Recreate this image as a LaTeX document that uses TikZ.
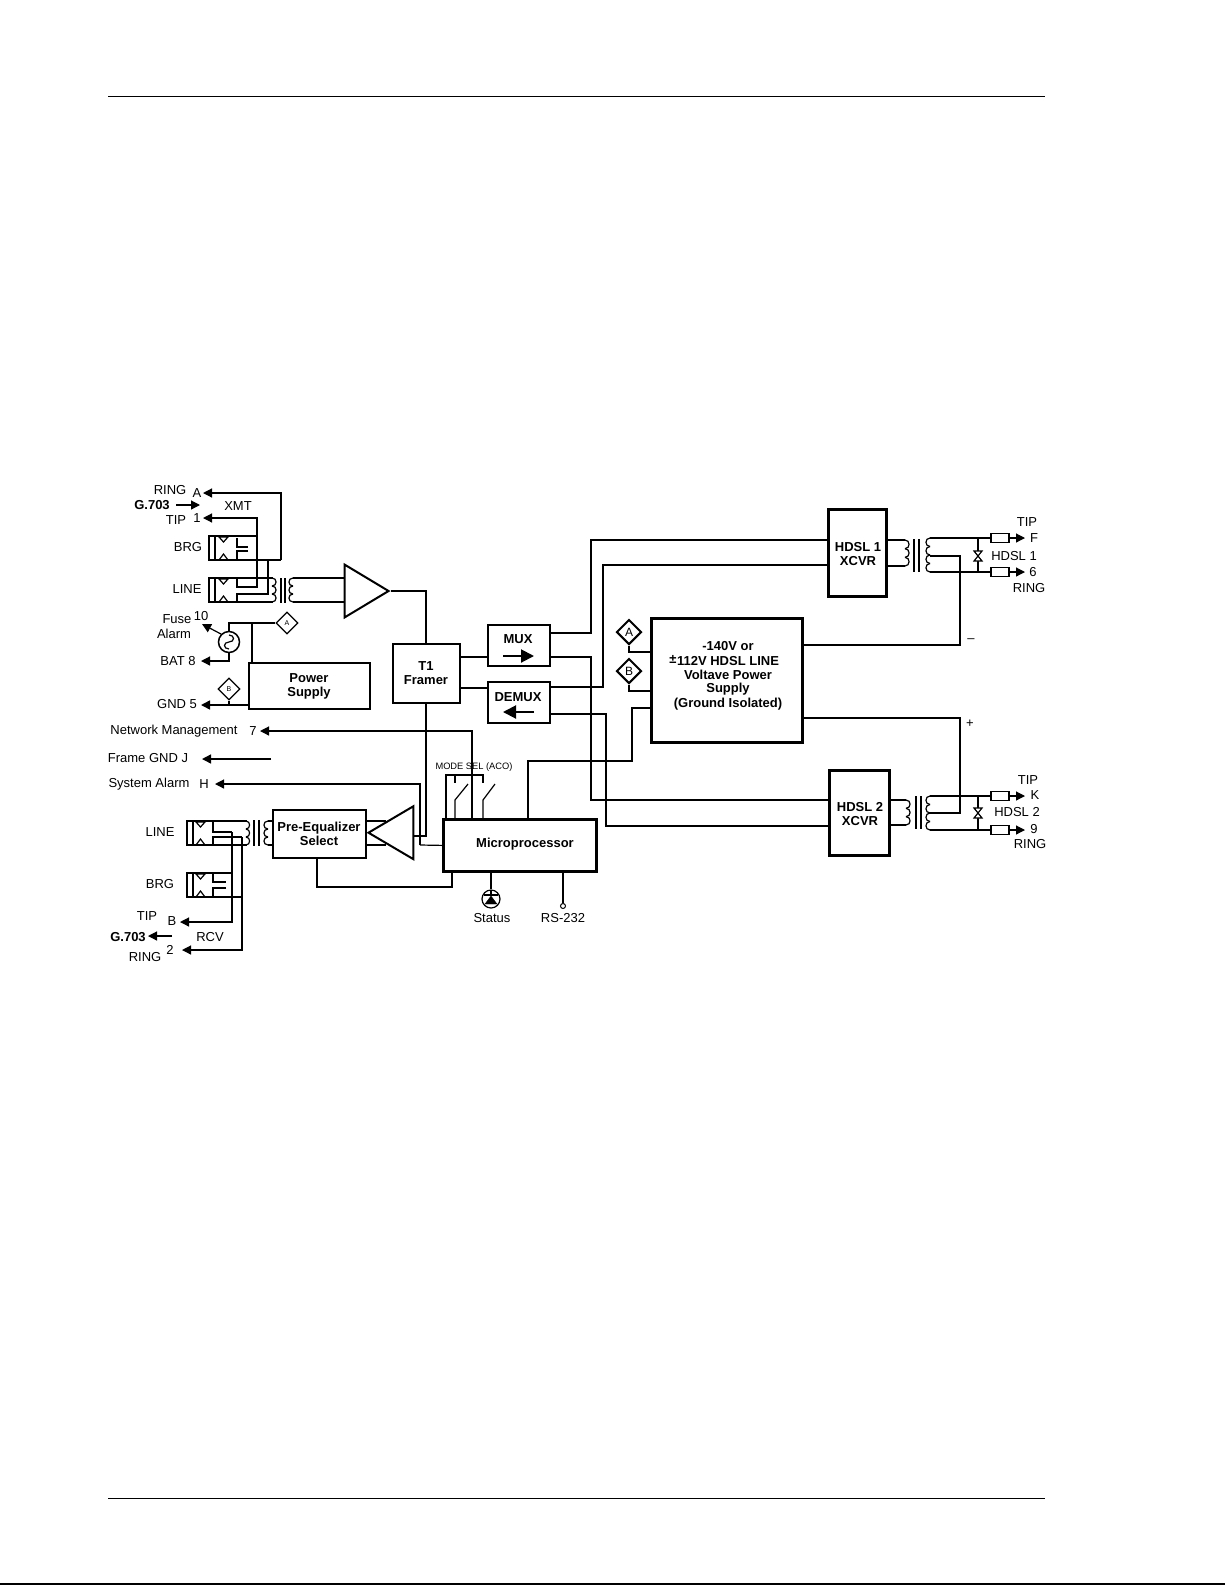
\documentclass[tikz,border=0pt]{standalone}
\usepackage{fontspec}
\setmainfont{Liberation Sans}
\usetikzlibrary{arrows.meta}
\usetikzlibrary{shapes.geometric}

\tikzset{
  wire/.style={line width=1.2pt},
  heavy/.style={line width=1.5pt},
  sig/.style={line width=1.2pt, -{Triangle[length=9pt, width=9pt]}},
  bigarrow/.style={line width=2pt, -{Triangle[length=13pt, width=13pt]}},
  block/.style={rectangle, draw=black, line width=2pt, inner sep=0pt, font=\fontsize{13}{14}\selectfont\bfseries, align=center, fill=white},
  jackbox/.style={rectangle, draw=black, line width=1.2pt, minimum width=6pt, minimum height=24pt, inner sep=0pt},
  fusebox/.style={rectangle, draw=black, line width=1.4pt, minimum width=18pt, minimum height=8.5pt, inner sep=0pt, fill=white},
  tag/.style={diamond, draw=black, line width=1.2pt, minimum size=22pt, inner sep=0pt, font=\fontsize{7}{8}\selectfont, fill=white},
  bigtag/.style={diamond, draw=black, line width=2pt, minimum size=25pt, inner sep=0pt, font=\fontsize{12}{13}\selectfont, fill=white},
  lbl/.style={inner sep=0pt, font=\fontsize{13}{13}\selectfont},
  boldlbl/.style={inner sep=0pt, font=\fontsize{13}{13}\selectfont\bfseries},
  smalllbl/.style={inner sep=0pt, font=\fontsize{9.3}{10}\selectfont},
}

% x, top y, bump height, bulge, number of bumps
\newcommand{\coil}[5]{
  \foreach \i in {1,...,#5} {
    \draw[wire] ({#1},{#2+(\i-1)*#3}) .. controls ({#1+#4*1.35},{#2+(\i-1)*#3}) and ({#1+#4*1.35},{#2+\i*#3}) .. ({#1},{#2+\i*#3});
  }
}

% name, x, top y, offset of triangles
\newcommand{\jack}[4]{
  \node[jackbox] (#1) at ({#2+3},{#3+12}) {};
  \draw[wire] ({#2+#4},{#3+1}) -- ({#2+#4+9},{#3+1}) -- ({#2+#4+4.5},{#3+6}) -- cycle;
  \draw[wire] ({#2+#4},{#3+24}) -- ({#2+#4+9},{#3+24}) -- ({#2+#4+4.5},{#3+18}) -- cycle;
}

% x, y
\newcommand{\clamp}[2]{
  \draw[wire, fill=white] ({#1-4},{#2-5}) -- ({#1+4},{#2-5}) -- ({#1-4},{#2+5}) -- ({#1+4},{#2+5}) -- cycle;
}

\begin{document}
\begin{tikzpicture}[x=1pt, y=-1pt]

\useasboundingbox (0, 0) rectangle (1225, 1585);

% page rules
\coordinate (ruleAa) at (108, 96.5);
\coordinate (ruleAb) at (1045, 96.5);
\coordinate (ruleBa) at (108, 1498.5);
\coordinate (ruleBb) at (1045, 1498.5);
\coordinate (edgeA) at (0, 1584.2);
\coordinate (edgeB) at (1225, 1584.2);
\draw[line width=1.3pt] (ruleAa) -- (ruleAb);
\draw[line width=1.3pt] (ruleBa) -- (ruleBb);
\draw[line width=1.5pt] (edgeA) -- (edgeB);

% blocks
\node[block, minimum width=67pt, minimum height=59pt] (framer) at (426, 673) {T1\\Framer};
\node[block, minimum width=62pt, minimum height=41pt] (mux) at (518.5, 645) {};
\node[block, minimum width=62pt, minimum height=41pt] (demux) at (518.5, 702) {};
\node[block, minimum width=121pt, minimum height=46pt] (psu) at (309, 686) {Power\\Supply};
\node[block, minimum width=93pt, minimum height=48pt] (preq) at (319, 833.5) {Pre-Equalizer\\Select};
\node[block, line width=2.8pt, minimum width=151pt, minimum height=124pt] (hvps) at (727, 680.8) {};
\node[block, line width=2.6pt, minimum width=153pt, minimum height=52pt] (micro) at (520, 845.4) {};
\node[block, line width=2.8pt, minimum width=58.4pt, minimum height=87pt] (xcvrA) at (857.5, 553.2) {};
\node[block, line width=2.8pt, minimum width=60pt, minimum height=85pt] (xcvrB) at (859.7, 813) {};

\node[boldlbl] (muxtxt) at (518, 639) {MUX};
\node[boldlbl] (demuxtxt) at (518, 697) {DEMUX};
\node[boldlbl] (microtxt) at (525, 844) {Microprocessor};
\node[boldlbl] (xcvrAa) at (858, 547) {HDSL 1};
\node[boldlbl] (xcvrAb) at (858, 561) {XCVR};
\node[boldlbl] (xcvrBa) at (860, 807) {HDSL 2};
\node[boldlbl] (xcvrBb) at (860, 821) {XCVR};
\node[boldlbl] (hvA) at (728, 646) {-140V or};
\node[boldlbl] (hvB) at (728, 661) {112V HDSL LINE};
\node[boldlbl] (hvpm) at (673, 659) {±};
\node[boldlbl] (hvC) at (728, 675) {Voltave Power};
\node[boldlbl] (hvD) at (728, 689) {Supply};
\node[boldlbl] (hvE) at (728, 704) {(Ground Isolated)};

% mux arrows
\coordinate (muxa) at (503, 656);
\coordinate (muxb) at (534, 656);
\coordinate (demuxa) at (534, 712);
\coordinate (demuxb) at (503, 712);
\draw[bigarrow] (muxa) -- (muxb);
\draw[bigarrow] (demuxa) -- (demuxb);

% XMT jacks
\jack{brgT}{209}{536}{10}
\jack{lineT}{209}{578}{10}
\coordinate (brgTa) at (215, 536);
\coordinate (brgTb) at (215, 560);
\coordinate (lineTa) at (215, 578);
\coordinate (lineTb) at (215, 602);
\coordinate (xpa) at (273, 578);
\coordinate (xpb) at (273, 602);
\coordinate (xsa) at (293, 578);
\coordinate (xsb) at (293, 602);
\coordinate (ringT) at (203, 493);
\coordinate (tipT) at (203, 518);
\draw[wire] (brgTa) -- (257, 536);
\draw[sig] (281, 560) -- (281, 493) -- (ringT);
\draw[wire] (brgTb) -- (281, 560);
\draw[sig] (237, 578) -- (237, 587) -- (257, 587) -- (257, 518) -- (tipT);
\draw[heavy] (237, 587) -- (257, 587);
\draw[wire] (lineTa) -- (xpa);
\draw[wire] (lineTb) -- (xpb);
\draw[wire] (237, 602) -- (237, 594) -- (268, 594) -- (268, 560);
\draw[wire] (237, 538) -- (237, 547) -- (248, 547);
\draw[wire] (248, 551) -- (237, 551) -- (237, 559);
\coil{272}{578}{8}{4}{3}
\coil{293}{578}{8}{-4}{3}
\draw[wire] (281, 578) -- (281, 603);
\draw[wire] (285, 578) -- (285, 603);

% XMT amplifier
\node[isosceles triangle, draw=black, line width=2pt, isosceles triangle apex angle=62, minimum height=44pt, inner sep=0pt, anchor=apex, shape border rotate=0] (ampT) at (390.5, 591) {};
\coordinate (ampTa) at (345, 578);
\coordinate (ampTb) at (345, 602);
\coordinate (ampTout) at (426, 591);
\draw[wire] (xsa) -- (ampTa);
\draw[wire] (xsb) -- (ampTb);
\draw[wire] (ampT.apex) -- (ampTout) -- (framer.north);

% fuse, power supply
\node[circle, draw=black, line width=1.5pt, minimum size=21pt, inner sep=0pt] (fuse) at (229, 642) {};
\node[tag] (tagA) at (287, 623) {A};
\node[tag] (tagB) at (229, 689) {B};
\coordinate (fuseTop) at (229, 623);
\coordinate (psTap) at (252, 623);
\coordinate (fuseAl) at (202, 624);
\coordinate (batT) at (201, 661);
\coordinate (gndT) at (201, 705);
\draw[wire] (fuse.north) -- (fuseTop) -- (tagA.west);
\draw[wire] (psTap) -- (psu.north -| psTap);
\draw[sig] (fuse.north west) -- (fuseAl);
\draw[sig] (fuse.south) -- (229, 661) -- (batT);
\draw[sig, line width=1.6pt] (psu.west |- gndT) -- (gndT);
\draw[wire] (tagB.south) -- (229, 705);
\coordinate (fuseSa) at (229, 635);
\coordinate (fuseSb) at (229, 649);
\draw[wire] (fuseSa) .. controls (235, 635) and (235, 642) .. (229, 642) .. controls (223, 642) and (223, 649) .. (fuseSb);

% management lines
\coordinate (nmgT) at (260, 731);
\coordinate (fgndT) at (202, 759);
\coordinate (fgndE) at (271, 759);
\coordinate (salT) at (215, 784);
\draw[sig] (472, 819) -- (472, 731) -- (nmgT);
\draw[sig, line width=1.4pt] (fgndE) -- (fgndT);
\draw[sig] (420, 845) -- (420, 784) -- (salT);
\draw[wire] (420, 845) -- (micro.west);

% RCV jacks
\jack{lineR}{187}{821}{9}
\jack{brgR}{187}{873}{9}
\coordinate (lineRa) at (193, 821);
\coordinate (lineRb) at (193, 845);
\coordinate (brgRa) at (193, 873);
\coordinate (brgRb) at (193, 897);
\coordinate (tipR) at (180, 922);
\coordinate (ringR) at (182, 950);
\draw[wire] (lineRa) -- (247, 821);
\draw[wire] (lineRb) -- (247, 845);
\draw[wire] (brgRa) -- (232, 873);
\draw[wire] (brgRb) -- (242, 897);
\draw[wire] (213, 822) -- (213, 832) -- (232, 832);
\draw[wire] (213, 845) -- (213, 837) -- (242, 837);
\draw[sig] (232, 832) -- (232, 922) -- (tipR);
\draw[sig] (242, 837) -- (242, 950) -- (ringR);
\draw[wire] (213, 874) -- (213, 882) -- (226, 882);
\draw[wire] (226, 888) -- (213, 888) -- (213, 896);
\coil{246}{821}{8}{3.5}{3}
\coil{268}{821}{8}{-4}{3}
\draw[wire] (254, 820) -- (254, 846);
\draw[wire] (259, 820) -- (259, 846);
\coordinate (rxsa) at (268, 821);
\coordinate (rxsb) at (268, 845);
\draw[wire] (rxsa) -- (preq.west |- rxsa);
\draw[wire] (rxsb) -- (preq.west |- rxsb);

% RCV amplifier
\node[isosceles triangle, draw=black, line width=2pt, isosceles triangle apex angle=61, minimum height=45pt, inner sep=0pt, anchor=apex, shape border rotate=180] (ampR) at (366.5, 832.7) {};
\coordinate (ampRa) at (386, 821);
\coordinate (ampRb) at (386, 845);
\draw[wire] (preq.east |- ampRa) -- (ampRa);
\draw[wire] (preq.east |- ampRb) -- (ampRb);
\coordinate (ampRin) at (413, 836);
\coordinate (ampRbend) at (426, 836);
\draw[wire] (framer.south) -- (ampRbend) -- (ampRin);
\draw[wire] (preq.south -| 317, 0) -- (317, 887) -- (452, 887) -- (452, 872);

% switches
\node[smalllbl] (modesel) at (474, 767) {MODE SEL (ACO)};
\draw[wire] (446, 819) -- (446, 775) -- (483, 775) -- (483, 783);
\draw[wire] (455, 775) -- (455, 783);
\draw[wire] (455, 819) -- (455, 800) -- (468, 784);
\draw[wire] (483, 819) -- (483, 800) -- (495, 784);

% framer to mux
\draw[wire] (framer.east |- 0, 657) -- (mux.west |- 0, 657);
\draw[wire] (framer.east |- 0, 688) -- (demux.west |- 0, 688);

% mux to xcvr
\draw[wire] (mux.east |- 0, 633) -- (591, 633) -- (591, 540) -- (xcvrA.west |- 0, 540);
\draw[wire] (demux.east |- 0, 687) -- (603, 687) -- (603, 565) -- (xcvrA.west |- 0, 565);
\draw[heavy] (mux.east |- 0, 657) -- (591, 657) -- (591, 800) -- (xcvrB.west |- 0, 800);
\draw[wire] (demux.east |- 0, 714) -- (606, 714) -- (606, 826) -- (xcvrB.west |- 0, 826);

% power block
\node[bigtag] (tagC) at (629, 632) {A};
\node[bigtag] (tagD) at (629, 671) {B};
\draw[wire] (tagC.south) -- (629, 652) -- (hvps.west |- 0, 652);
\draw[wire] (tagD.south) -- (629, 691) -- (hvps.west |- 0, 691);
\draw[wire] (528, 819) -- (528, 761) -- (632, 761) -- (632, 708) -- (hvps.west |- 0, 708);

% status, RS-232
\node[circle, draw=black, line width=1.2pt, minimum size=18pt, inner sep=0pt] (led) at (491, 899) {};
\node[circle, draw=black, line width=1pt, minimum size=5pt, inner sep=0pt] (rsdot) at (563, 906) {};
\draw[wire] (micro.south -| led) -- (led.north);
\draw[heavy] (micro.south -| rsdot) -- (rsdot.north);
\draw[fill=black] (485, 904) -- (497, 904) -- (491, 896) -- cycle;
\draw[line width=1.2pt] (484, 895) -- (498, 895);
\draw[wire] (491, 890) -- (491, 896);

% HDSL 1 line side
\coordinate (xaa) at (930, 538);
\coordinate (xab) at (930, 572);
\coordinate (xac) at (930, 556);
\node[fusebox] (resF) at (1000, 538) {};
\node[fusebox] (resS) at (1000, 572) {};
\coordinate (endF) at (1025, 538);
\coordinate (endS) at (1025, 572);
\draw[wire] (xcvrA.east |- 0, 540) -- (905, 540);
\draw[wire] (xcvrA.east |- 0, 566) -- (905, 566);
\coil{905}{540}{8.67}{4}{3}
\draw[wire] (914, 539) -- (914, 572);
\draw[wire] (919, 539) -- (919, 572);
\coil{930}{538}{8.5}{-4}{4}
\draw[wire] (xaa) -- (resF.west);
\draw[wire] (xab) -- (resS.west);
\draw[sig] (resF.east) -- (endF);
\draw[sig] (resS.east) -- (endS);
\draw[wire] (978, 538) -- (978, 572);
\clamp{978}{556}
\draw[heavy] (hvps.east |- 0, 645) -- (960, 645) -- (960, 556) -- (xac);

% HDSL 2 line side
\coordinate (xba) at (930, 796);
\coordinate (xbb) at (930, 830);
\coordinate (xbc) at (930, 813);
\node[fusebox] (resK) at (1000, 796) {};
\node[fusebox] (resN) at (1000, 830) {};
\coordinate (endK) at (1025, 796);
\coordinate (endN) at (1025, 830);
\draw[wire] (xcvrB.east |- 0, 800) -- (906, 800);
\draw[wire] (xcvrB.east |- 0, 825) -- (906, 825);
\coil{906}{800}{8.33}{4}{3}
\draw[wire] (916, 796) -- (916, 829);
\draw[wire] (921, 796) -- (921, 829);
\coil{930}{796}{8.5}{-4}{4}
\draw[heavy] (xba) -- (resK.west);
\draw[wire] (xbb) -- (resN.west);
\draw[sig] (resK.east) -- (endK);
\draw[sig] (resN.east) -- (endN);
\draw[wire] (978, 796) -- (978, 830);
\clamp{978}{813}
\draw[heavy] (hvps.east |- 0, 718) -- (960, 718) -- (960, 813) -- (xbc);

% labels
\node[lbl] (ringTa) at (170, 490) {RING};
\node[lbl] (ringTb) at (197, 493) {A};
\node[boldlbl] (gTa) at (152, 505) {G.703};
\coordinate (gTb) at (176, 505);
\coordinate (gTc) at (200, 505);
\draw[sig] (gTb) -- (gTc);
\node[lbl] (xmt) at (238, 506) {XMT};
\node[lbl] (tipTa) at (176, 520) {TIP};
\node[lbl] (tipTb) at (197, 518) {1};
\node[lbl] (brgTl) at (188, 547) {BRG};
\node[lbl] (lineTl) at (187, 589) {LINE};
\node[lbl] (fuseA) at (177, 619) {Fuse};
\node[lbl] (fuseB) at (174, 634) {Alarm};
\node[lbl] (fuseC) at (201, 616) {10};
\node[lbl] (batl) at (178, 661) {BAT 8};
\node[lbl] (gndl) at (177, 704) {GND 5};
\node[lbl] (nml) at (174, 731) {Network Management};
\node[lbl] (nmn) at (253, 731) {7};
\node[lbl] (fgl) at (148, 758) {Frame GND J};
\node[lbl] (sal) at (149, 784) {System Alarm};
\node[lbl] (sah) at (204, 784) {H};
\node[lbl] (lineRl) at (160, 832) {LINE};
\node[lbl] (brgRl) at (160, 884) {BRG};
\node[lbl] (tipRa) at (147, 916) {TIP};
\node[lbl] (tipRb) at (172, 921) {B};
\node[boldlbl] (gRa) at (128, 937) {G.703};
\coordinate (gRb) at (172, 936);
\coordinate (gRc) at (148, 936);
\draw[sig] (gRb) -- (gRc);
\node[lbl] (rcv) at (210, 937) {RCV};
\node[lbl] (ringRa) at (145, 957) {RING};
\node[lbl] (ringRb) at (170, 950) {2};
\node[lbl] (statl) at (492, 918) {Status};
\node[lbl] (rsl) at (563, 918) {RS-232};
\node[lbl] (tipF) at (1027, 522) {TIP};
\node[lbl] (lblF) at (1034, 538) {F};
\node[lbl] (hdslA) at (1014, 556) {HDSL 1};
\node[lbl] (lblS) at (1033, 572) {6};
\node[lbl] (ringS) at (1029, 588) {RING};
\node[lbl] (tipK) at (1028, 780) {TIP};
\node[lbl] (lblK) at (1035, 795) {K};
\node[lbl] (hdslB) at (1017, 812) {HDSL 2};
\node[lbl] (lblN) at (1034, 829) {9};
\node[lbl] (ringN) at (1030, 844) {RING};
\node[lbl] (minus) at (971, 641) {–};
\node[lbl] (plus) at (970, 724) {+};

\end{tikzpicture}
\end{document}
